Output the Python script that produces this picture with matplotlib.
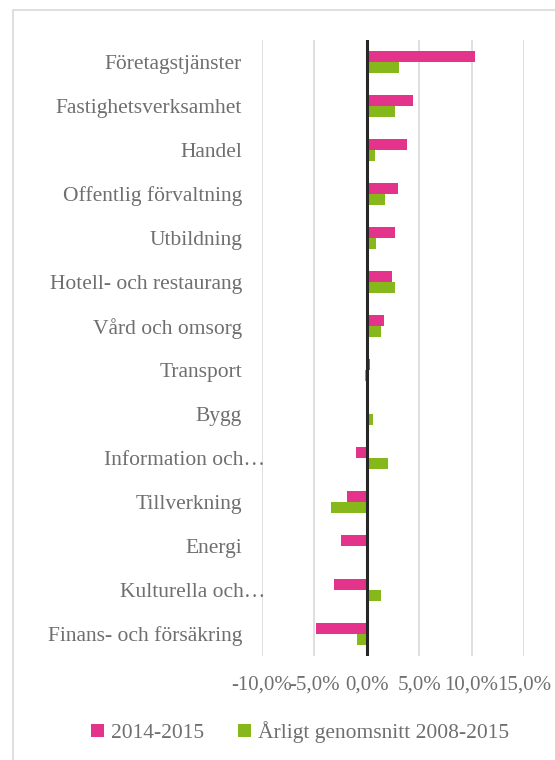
import matplotlib
matplotlib.use('Agg')
from matplotlib import pyplot as plt
from matplotlib.patches import Rectangle
from matplotlib.ticker import FuncFormatter
import numpy as np

plt.rcParams['font.family'] = ['Liberation Serif', 'DejaVu Serif']

categories = ['Företagstjänster', 'Fastighetsverksamhet', 'Handel', 'Offentlig förvaltning',
              'Utbildning', 'Hotell- och restaurang', 'Vård och omsorg', 'Transport', 'Bygg',
              'Information och…', 'Tillverkning', 'Energi', 'Kulturella och…',
              'Finans- och försäkring']
series_names = ['2014-2015', 'Årligt genomsnitt 2008-2015']
change_1415 = [10.35, 4.45, 3.8, 2.95, 2.7, 2.4, 1.65, 0.3, 0.0,
               -1.0, -1.85, -2.5, -3.1, -4.8]
avg_0815 = [3.1, 2.7, 0.8, 1.75, 0.9, 2.7, 1.35, -0.15, 0.55,
            2.0, -3.4, 0.2, 1.35, -0.9]
xticks = [-10, -5, 0, 5, 10, 15]

pink = '#E3338A'
green = '#86B81B'
txt = '#6f6f6f'

fig = plt.figure(figsize=(5.55, 7.6), dpi=100)
ax = fig.add_axes([262 / 555, 1 - 656 / 760, 262 / 555, 616 / 760])

# outer chart frame
fig.patches.append(Rectangle((13 / 555, -0.05), 1.1, 1.05 - 10.5 / 760, transform=fig.transFigure,
                             fill=False, edgecolor='#d9d9d9', linewidth=1.2))

y = np.arange(len(categories))
h = 0.25
ax.barh(y - h / 2, change_1415, height=h, color=pink, label=series_names[0])
ax.barh(y + h / 2, avg_0815, height=h, color=green, label=series_names[1])

ax.set_xlim(-10, 15)
ax.set_ylim(len(categories) - 0.5, -0.5)
ax.set_xticks(xticks)
ax.xaxis.set_major_formatter(FuncFormatter(lambda v, p: ('%.1f%%' % v).replace('.', ',')))
ax.tick_params(axis='x', length=0, pad=14, labelsize=15, labelcolor=txt)
ax.set_yticks([])
ax.grid(axis='x', color='#d9d9d9', linewidth=1.2)
ax.set_axisbelow(True)
for s in ax.spines.values():
    s.set_visible(False)
ax.axvline(0, color='#262626', linewidth=2.2)

# category labels, right aligned left of the plot area
for i, c in enumerate(categories):
    off = 3 if c.endswith('…') else -20
    ax.annotate(c, xy=(0, i), xycoords=('axes fraction', 'data'),
                xytext=(off * 0.72, -1.5), textcoords='offset points',
                ha='right', va='center', fontsize=15.5, color=txt)

leg = fig.legend(loc='center', bbox_to_anchor=(300 / 555, 1 - 732 / 760), ncol=2, frameon=False,
                 fontsize=15.5, handlelength=0.6, handleheight=0.6, handletextpad=0.3,
                 columnspacing=1.6)
for t in leg.get_texts():
    t.set_color(txt)

fig.savefig('out.png', dpi=100)
